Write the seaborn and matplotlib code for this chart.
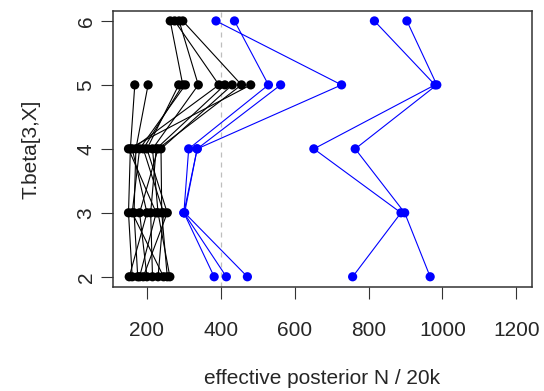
import numpy as np
import pandas as pd
import matplotlib
matplotlib.use("Agg")
import matplotlib.pyplot as plt
import seaborn as sns

# levels of X in T.beta[3,X]
levels = [2, 3, 4, 5, 6]

# effective posterior N / 20k, one list per series (values at levels 2..6, nan = missing)
black_series = [
    [160, 150, 155, 167, np.nan],
    [175, 165, 170, 203, np.nan],
    [230, 245, 190, 297, 263],
    [152, 200, 160, 395, 275],
    [262, 230, 215, 339, 287],
    [200, 180, 230, 456, 297],
    [190, 255, 200, 286, np.nan],
    [245, 160, 180, 304, np.nan],
    [215, 210, 225, 411, np.nan],
    [255, 240, 238, 431, np.nan],
    [180, 225, 150, 481, np.nan],
]
blue_series = [
    [382, 300, 336, 727, 387],
    [415, 300, 313, 529, 437],
    [757, 888, 652, 980, 816],
    [967, 898, 764, 985, 904],
    [472, 302, 336, 562, np.nan],
]
ref_line = 400
xticks = [200, 400, 600, 800, 1000, 1200]
xlabel = "effective posterior N / 20k"
ylabel = "T.beta[3,X]"

rows = []
for i, s in enumerate(black_series):
    for lv, v in zip(levels, s):
        if not np.isnan(v):
            rows.append(dict(series=f"k{i}", group="black", level=lv, n=v))
for i, s in enumerate(blue_series):
    for lv, v in zip(levels, s):
        if not np.isnan(v):
            rows.append(dict(series=f"b{i}", group="blue", level=lv, n=v))
df = pd.DataFrame(rows)

sns.set_style("white")
plt.rcParams["font.family"] = ["Liberation Sans", "DejaVu Sans"]

fig = plt.figure(figsize=(5.44, 3.91), dpi=100)
ax = fig.add_axes([113 / 544, (391 - 287) / 391, (531.7 - 113) / 544, (287 - 10.7) / 391])

palette = {"black": "#000000", "blue": "#0000FF"}
ax.axvline(ref_line, color="#BEBEBE", linestyle=(0, (4, 4)), linewidth=0.9, zorder=0)
sns.lineplot(data=df, x="n", y="level", hue="group", units="series", estimator=None,
             orient="y", sort=True, palette=palette, linewidth=0.8, legend=False, ax=ax)
sns.scatterplot(data=df, x="n", y="level", hue="group", palette=palette, s=44,
                edgecolor="none", legend=False, ax=ax, zorder=3)

ax.set_xlim(150 - 0.04 * 1050, 1200 + 0.04 * 1050)
ax.set_ylim(2 - 0.04 * 4, 6 + 0.04 * 4)
ax.set_xticks(xticks)
ax.set_yticks(levels)
ax.set_xticklabels([str(t) for t in xticks])
ax.set_yticklabels([str(t) for t in levels], rotation=90, va="center")
ax.tick_params(axis="both", direction="out", length=8.5, width=0.8, color="#333333",
               labelsize=15, left=True, bottom=True)
ax.tick_params(axis="x", pad=16)
ax.tick_params(axis="y", pad=4)
for sp in ax.spines.values():
    sp.set_color("#333333")
    sp.set_linewidth(1.1)
ax.set_xlabel(xlabel, fontsize=15, labelpad=21)
ax.set_ylabel(ylabel, fontsize=15, labelpad=26)

fig.savefig("out.png", dpi=100)
